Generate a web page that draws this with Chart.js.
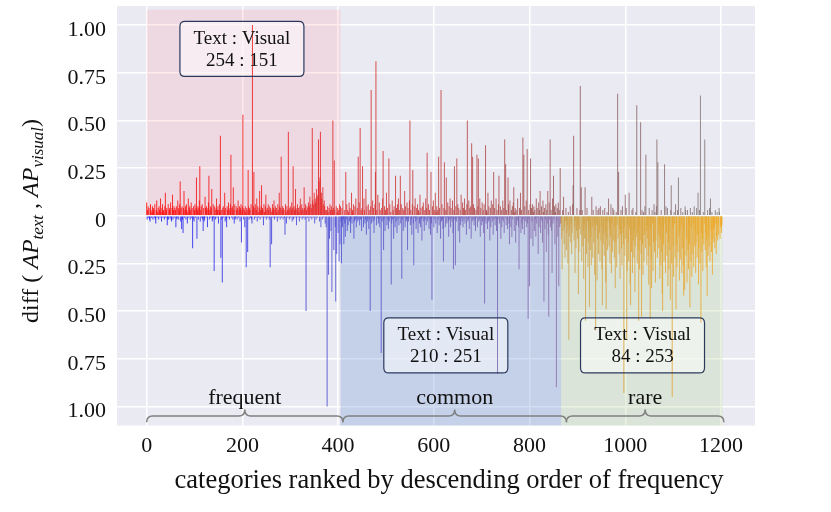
<!DOCTYPE html>
<html>
<head>
<meta charset="utf-8">
<script src="https://cdn.jsdelivr.net/npm/chart.js@4.4.1/dist/chart.umd.min.js"></script>
<style>
  html, body { margin: 0; padding: 0; background: #fff; }
  #wrap { width: 831px; height: 512px; }
</style>
</head>
<body>
<div id="wrap"><canvas id="diffChart" width="831" height="512"></canvas></div>
<script>
/* AP(text) - AP(visual) per category, in hundredths, ranked by frequency */
const frequentDiff = [
  7,-2,3,5,-1,4,-2,-3,6,3,-1,2,5,-2,4,
  3,-1,6,-2,-4,3,8,-1,2,4,-2,5,3,-1,9,
  2,-3,4,6,-1,3,2,-2,5,12,-1,3,4,-5,-2,
  6,-2,3,4,-1,7,-2,-3,4,11,-2,3,5,-1,4,
  3,-6,5,-2,-1,8,4,-2,3,6,18,-3,4,-7,5,
  -2,-9,4,13,-1,3,5,-2,6,3,-4,2,9,-1,4,
  5,-2,3,7,-1,4,-17,-2,5,-3,3,6,-1,4,20,
  -12,3,5,-2,4,8,26,-3,3,5,-1,6,-2,-8,4,
  -3,-2,10,4,-1,5,3,-6,4,7,21,-2,3,5,-1,
  4,14,-3,-2,6,-1,-29,5,3,-2,4,9,-1,3,5,
  -4,3,6,2,42,-22,3,-2,-35,4,5,-1,3,12,-3,
  4,-2,-6,5,3,-1,7,4,-2,3,6,32,-1,4,5,
  -2,15,3,-4,6,-2,-1,5,3,-2,4,8,-1,3,5,
  -3,4,6,-14,3,5,53,-2,4,3,-6,5,2,-27,4,
  3,-19,24,5,-2,4,3,-1,6,-2,-4,100,3,5,23,
  -2,4,6,-1,3,9,-3,5,2,-1,4,13,-2,3,5,
  16,-1,4,3,-5,6,2,-1,5,11,-2,3,4,-1,6,
  3,-2,5,-27,4,2,-15,3,6,-1,4,8,-2,3,5,
  -1,4,2,-3,6,3,-1,12,5,-2,4,31,-1,3,5,
  -2,4,3,-1,-10,6,2,-4,5,3,-1,44,3,-2,4,
  5,-1,3,7,-3,4,26,-2,5,3,-1,14,4,-5,3,
  6,-1,4,2,-3,5,9,-1,3,6,-2,4,3,-1,15,
  4,-2,6,-50,3,5,-1,4,7,-3,5,10,-1,6,4,
  -2,46,8,-1,6,12,-4,9,7,-2,14,10,-1,11,40,
  18,-3,20,44,-6,12,9,-2,15,6,-1,8,5,-4,3,
  -6,3,-100,5,2,-31,4,-12,6,3,-8,5,-40,3,50,
  4,-18,29,3,-6,-45,5,-20,2,4,-9,3,-24,6,-15
];
const commonDiff = [
  5,-3,-25,4,-6,8,-2,-15,3,-4,-11,23,-2,6,-8,3,-5,2,7,-3,
  4,-9,-2,12,-4,3,2,6,-12,-3,5,-2,9,-6,-1,4,-3,31,-2,7,
  -5,46,-2,3,-8,4,26,-1,-6,9,3,-4,-2,14,-10,5,-3,-1,6,-7,
  3,-2,-50,5,66,-4,-1,8,-3,4,-9,-2,6,23,81,-5,3,-1,11,-4,
  -2,7,-6,3,-1,-72,4,-3,9,34,-18,-2,5,-8,3,-1,12,-5,4,-2,
  -7,30,-3,6,-1,2,-36,-4,8,-2,3,-12,5,-1,-6,21,-3,4,-9,6,
  -2,9,-5,3,-1,21,-4,6,-33,-2,4,-8,3,-1,13,-6,5,-3,-2,7,
  -18,4,-3,-1,8,50,-5,3,-2,-10,6,24,-4,-26,5,-1,9,-3,-7,4,
  -2,6,-9,3,2,-4,11,-6,4,-2,-13,5,-1,7,-3,-8,3,-2,9,-5,
  4,33,-3,-1,6,-7,3,-2,-10,23,-4,-44,5,-1,8,-6,3,-2,12,-4,
  2,5,-9,3,-2,31,-5,4,-1,-12,66,-3,6,-2,-7,-24,4,28,-1,-6,
  3,20,-4,-1,7,-3,-11,5,-2,9,-6,4,-1,-3,8,-9,-28,3,26,-2,
  -26,5,-3,30,-1,6,-8,4,-2,-14,3,-5,11,-1,-3,7,-6,4,-2,9,
  -4,3,-1,-10,6,50,-3,-2,8,-7,4,-1,5,-12,38,-3,31,-2,6,-5,
  4,-2,-8,3,-1,32,-6,5,30,-3,-2,9,-11,4,-1,-5,7,-3,3,-9,
  6,-46,-2,37,-4,3,2,-7,12,-3,5,-2,-13,4,-6,8,-1,-3,6,-10,
  23,-2,4,-5,-1,9,-8,3,-83,-2,6,21,-4,-1,5,-12,3,-6,-2,8,
  -3,4,-9,40,-1,27,-5,3,-2,-7,20,6,-4,-15,8,-1,-6,3,-11,5,
  -2,7,15,-8,2,4,-14,3,-5,-2,9,-3,-6,-28,4,-1,12,-9,3,-4,
  -7,41,-2,32,-10,5,-3,-1,8,-6,35,-4,-54,3,-2,-37,6,30,-12,4,
  -3,6,-16,2,5,-8,3,-2,-11,9,-4,4,-1,-20,7,-6,3,13,-9,-2,
  5,-3,-14,8,2,-45,4,-7,-2,6,-19,3,-4,13,-10,-53,7,-2,40,-6,
  3,-8,-30,9,-4,21,-2,5,-15,2,6,-90,-3,4,-11,7,-37,3,-6,25,-4
];
const rareDiff = [
  -4,-12,-28,3,-8,10,-15,-6,-22,-3,4,-18,-9,-5,-25,2,-65,-11,-7,5,
  -14,-4,-20,-9,6,16,42,-13,-6,-30,-3,-17,-8,4,-12,-5,-41,-19,-7,3,
  68,-10,15,-24,3,-16,-8,-33,-4,-12,15,-55,-6,-20,4,-3,-27,-14,-7,-48,
  -5,-18,-11,-26,10,-6,-22,3,-14,-4,-31,-8,-60,5,-5,-34,-12,3,-20,4,
  -9,-24,5,-13,-6,-28,-47,3,-15,-10,-21,4,-8,-35,-49,-12,2,-18,-3,9,
  -16,-7,-25,-11,6,-30,-4,-19,4,-13,3,-22,-6,-38,-14,2,-27,-5,64,-12,
  23,-20,-7,-33,-10,3,-17,-26,5,-9,-15,-93,-6,-21,11,-12,4,-65,-29,-5,
  -14,-24,12,-7,-36,-47,-10,-19,3,-30,4,-13,-22,-8,-40,-16,2,-11,58,-25,
  -9,-18,-55,-6,-28,-13,49,-20,-53,3,-15,-31,2,-24,-10,5,-17,32,-8,-26,
  -12,-5,-21,-36,4,-16,-54,-7,-23,-38,3,-4,-29,-14,6,-19,2,-35,-13,5,
  40,-22,28,-10,-17,-5,-33,-12,-26,3,-19,-41,-50,-7,-15,-24,27,-4,-30,5,
  -9,-21,4,-37,-14,-28,-5,-18,-44,3,16,-25,-95,-7,-16,-32,2,-4,-22,6,
  -49,-15,-27,3,-19,20,-11,-34,-8,-23,4,-5,-30,-17,2,-26,-42,-7,-39,5,
  3,-21,-12,-35,3,-18,-28,-5,-15,-48,4,-24,-7,-32,2,-20,-4,-27,5,-16,
  -8,-30,-14,4,-22,-10,12,-36,-17,3,-25,63,-56,-9,-19,-12,-29,2,-15,-4,
  40,-18,-9,-27,-13,-42,3,-21,-11,-16,4,-24,9,-8,-19,2,-31,-12,-7,-14,
  -6,-17,3,-4,-20,-11,2,-13,-5,-10,4,2,-12,-6,-4,-9,-5
];

const groupNames = ['frequent', 'common', 'rare'];
const groupStart = [0, 405, 866];
const groupEnd = [405, 866, 1203];
const textWins = [254, 210, 84];
const visualWins = [151, 251, 253];
const braceEdges = [0, 410, 877, 1206];
const boxCenters = [[199, 0.875], [625, -0.68], [1036, -0.68]];
const xTicks = [0, 200, 400, 600, 800, 1000, 1200];
const yTicks = [-1, -0.75, -0.5, -0.25, 0, 0.25, 0.5, 0.75, 1];
const xTitle = 'categories ranked by descending order of frequency';

const SERIF = '"Liberation Serif", "Times New Roman", serif';
const INK = '#111111';

// bar colour drifts with rank: red -> grey above zero, blue -> mauve | gold below
const posStops = [[0, [255, 0, 0]], [405, [225, 35, 35]], [865, [150, 85, 85]], [1203, [125, 120, 120]]];
const negStops = [[0, [20, 20, 245]], [405, [75, 75, 210]], [865, [140, 110, 165]], [866, [205, 160, 75]], [1203, [240, 168, 35]]];
const regionFill = ['rgba(255,160,175,0.22)', 'rgba(117,151,215,0.32)', 'rgba(187,214,162,0.32)'];

function lerpStops(stops, i) {
    for (let k = 0; k < stops.length - 1; k++) {
        const [a, ca] = stops[k];
        const [b, cb] = stops[k + 1];
        if (i <= b) {
            const t = b === a ? 1 : (i - a) / (b - a);
            return ca.map((c, j) => Math.round(c + (cb[j] - c) * t));
        }
    }
    return stops[stops.length - 1][1];
}

const allDiff = frequentDiff.concat(commonDiff, rareDiff).map(v => v / 100);
const points = allDiff.map((v, i) => ({ x: i, y: v }));
const barColors = allDiff.map((v, i) => {
    const c = lerpStops(v >= 0 ? posStops : negStops, i);
    return 'rgba(' + c.join(',') + ',0.82)';
});

function roundRect(ctx, x, y, w, h, r) {
    ctx.beginPath();
    ctx.moveTo(x + r, y);
    ctx.lineTo(x + w - r, y);
    ctx.quadraticCurveTo(x + w, y, x + w, y + r);
    ctx.lineTo(x + w, y + h - r);
    ctx.quadraticCurveTo(x + w, y + h, x + w - r, y + h);
    ctx.lineTo(x + r, y + h);
    ctx.quadraticCurveTo(x, y + h, x, y + h - r);
    ctx.lineTo(x, y + r);
    ctx.quadraticCurveTo(x, y, x + r, y);
    ctx.closePath();
}

function drawBrace(ctx, x0, x1, yBase, yLine, yTip) {
    const xm = (x0 + x1) / 2;
    const r = 6;
    ctx.beginPath();
    ctx.moveTo(x0, yBase);
    ctx.quadraticCurveTo(x0, yLine, x0 + r, yLine);
    ctx.lineTo(xm - r, yLine);
    ctx.quadraticCurveTo(xm, yLine, xm, yTip);
    ctx.quadraticCurveTo(xm, yLine, xm + r, yLine);
    ctx.lineTo(x1 - r, yLine);
    ctx.quadraticCurveTo(x1, yLine, x1, yBase);
    ctx.stroke();
}

function drawYTitle(ctx) {
    const parts = [
        ['diff ( ', false, false], ['AP', true, false], ['text', true, true],
        [' , ', false, false], ['AP', true, false], ['visual', true, true], [')', false, false]
    ];
    const fontFor = p => (p[1] ? 'italic ' : '') + (p[2] ? '17px ' : '24px ') + SERIF;
    ctx.save();
    ctx.translate(38, 221);
    ctx.rotate(-Math.PI / 2);
    let total = 0;
    parts.forEach(p => { ctx.font = fontFor(p); total += ctx.measureText(p[0]).width; });
    let x = -total / 2;
    ctx.fillStyle = INK;
    ctx.textBaseline = 'alphabetic';
    ctx.textAlign = 'left';
    parts.forEach(p => {
        ctx.font = fontFor(p);
        ctx.fillText(p[0], x, p[2] ? 5 : 0);
        x += ctx.measureText(p[0]).width;
    });
    ctx.restore();
}

const decorPlugin = {
    id: 'decor',
    beforeDraw(chart) {
        const { ctx, chartArea: a } = chart;
        ctx.save();
        ctx.fillStyle = '#EAEAF2';
        ctx.fillRect(a.left, a.top, a.right - a.left, a.bottom - a.top);
        ctx.restore();
    },
    beforeDatasetsDraw(chart) {
        const { ctx, chartArea: a, scales: { x, y } } = chart;
        ctx.save();
        groupNames.forEach((name, g) => {
            const left = x.getPixelForValue(groupStart[g]);
            const right = x.getPixelForValue(groupEnd[g]);
            const top = g === 0 ? y.getPixelForValue(1.08) : y.getPixelForValue(0);
            const bottom = g === 0 ? y.getPixelForValue(0) : a.bottom;
            ctx.fillStyle = regionFill[g];
            ctx.fillRect(left, top, right - left, bottom - top);
        });
        // annotation boxes sit under the bars
        boxCenters.forEach(c => {
            const cx = x.getPixelForValue(c[0]);
            const cy = y.getPixelForValue(c[1]);
            roundRect(ctx, cx - 62, cy - 27.5, 124, 55, 5);
            ctx.fillStyle = 'rgba(255,255,255,0.5)';
            ctx.fill();
        });
        ctx.restore();
    },
    afterDatasetsDraw(chart) {
        const { ctx, scales: { x, y } } = chart;
        ctx.save();
        boxCenters.forEach((c, g) => {
            const cx = x.getPixelForValue(c[0]);
            const cy = y.getPixelForValue(c[1]);
            roundRect(ctx, cx - 62, cy - 27.5, 124, 55, 5);
            ctx.strokeStyle = '#2b3a5c';
            ctx.lineWidth = 1.2;
            ctx.stroke();
            ctx.fillStyle = INK;
            ctx.font = '19px ' + SERIF;
            ctx.textAlign = 'center';
            ctx.textBaseline = 'middle';
            ctx.fillText('Text : Visual', cx, cy - 10);
            ctx.fillText(textWins[g] + ' : ' + visualWins[g], cx, cy + 12);
        });
        ctx.strokeStyle = '#808080';
        ctx.lineWidth = 1.5;
        const yBase = y.getPixelForValue(-1.083);
        const yLine = y.getPixelForValue(-1.05);
        const yTip = y.getPixelForValue(-1.016);
        groupNames.forEach((name, g) => {
            const x0 = x.getPixelForValue(braceEdges[g]);
            const x1 = x.getPixelForValue(braceEdges[g + 1]);
            drawBrace(ctx, x0, x1, yBase, yLine, yTip);
            ctx.fillStyle = INK;
            ctx.font = '22px ' + SERIF;
            ctx.textAlign = 'center';
            ctx.textBaseline = 'middle';
            ctx.fillText(name, (x0 + x1) / 2, y.getPixelForValue(-0.955));
        });
        ctx.restore();
    },
    afterDraw(chart) {
        const ctx = chart.ctx;
        drawYTitle(ctx);
        ctx.save();
        ctx.fillStyle = INK;
        ctx.font = '26.5px ' + SERIF;
        ctx.textAlign = 'center';
        ctx.textBaseline = 'middle';
        ctx.fillText(xTitle, 449, 481);
        ctx.restore();
    }
};

new Chart(document.getElementById('diffChart').getContext('2d'), {
    type: 'bar',
    data: {
        datasets: [{
            data: points,
            backgroundColor: barColors,
            borderWidth: 0,
            inflateAmount: 0,
            barThickness: 1
        }]
    },
    options: {
        responsive: false,
        animation: false,
        devicePixelRatio: 1,
        layout: { padding: { top: 6, right: 76, left: 0, bottom: 0 } },
        plugins: { legend: { display: false }, tooltip: { enabled: false } },
        scales: {
            x: {
                type: 'linear',
                offset: false,
                min: -62,
                max: 1271,
                afterFit(s) { s.height = 86.5; s.paddingLeft = 0; s.paddingRight = 0; },
                afterBuildTicks(s) { s.ticks = xTicks.map(v => ({ value: v })); },
                grid: { color: '#ffffff', lineWidth: 1.5, drawTicks: false, offset: false },
                border: { display: false },
                ticks: {
                    color: INK, padding: 8, maxRotation: 0, autoSkip: false,
                    font: { family: SERIF, size: 22 },
                    callback: v => String(v)
                }
            },
            y: {
                min: -1.1,
                max: 1.1,
                afterFit(s) { s.width = 117; s.paddingTop = 0; s.paddingBottom = 0; },
                afterBuildTicks(s) { s.ticks = yTicks.map(v => ({ value: v })); },
                grid: { color: '#ffffff', lineWidth: 1.5, drawTicks: false },
                border: { display: false },
                ticks: {
                    color: INK, padding: 11, labelOffset: 5, autoSkip: false,
                    font: { family: SERIF, size: 22 },
                    callback: v => v === 0 ? '0' : Math.abs(v).toFixed(2)
                }
            }
        }
    },
    plugins: [decorPlugin]
});
</script>
</body>
</html>
